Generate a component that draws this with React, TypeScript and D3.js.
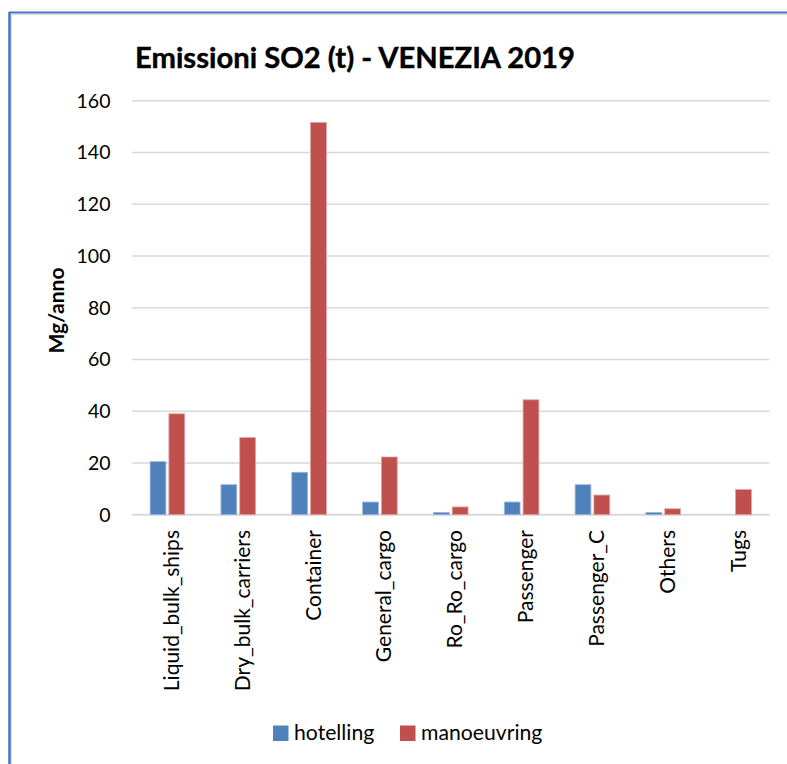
import React from "react";
import * as d3 from "d3";

const categories = [
  "Liquid_bulk_ships",
  "Dry_bulk_carriers",
  "Container",
  "General_cargo",
  "Ro_Ro_cargo",
  "Passenger",
  "Passenger_C",
  "Others",
  "Tugs",
];
const hotelling = [20.5, 11.6, 16.4, 4.9, 0.9, 4.9, 11.6, 0.9, 0];
const manoeuvring = [39.0, 29.8, 151.6, 22.3, 3.0, 44.4, 7.6, 2.3, 9.7];
const yTicks = [0, 20, 40, 60, 80, 100, 120, 140, 160];
const seriesNames = ["hotelling", "manoeuvring"];
const seriesColors = ["#4F81BD", "#C0504D"];

const W = 787;
const H = 764;
const FONT = "Lato, 'Open Sans', sans-serif";

export default function App() {
  const x = d3.scaleBand<string>().domain(categories).range([132, 769.5]).padding(0);
  const y = d3.scaleLinear().domain([0, 160]).range([514.7, 100.7]);
  const barW = 15.8;
  const gap = 3;
  const series = [hotelling, manoeuvring];

  return (
    <svg
      width={W}
      height={H}
      style={{ position: "absolute", left: 0, top: 0, background: "#fff" }}
      fontFamily={FONT}
    >
      {/* chart frame */}
      <line x1={9} y1={12.5} x2={W} y2={12.5} stroke="#4472C4" strokeWidth={2} />
      <line x1={9.5} y1={12} x2={9.5} y2={H} stroke="#4472C4" strokeWidth={2.5} />
      <line x1={11} y1={14.5} x2={W} y2={14.5} stroke="#d9d9d9" strokeWidth={1} />
      <line x1={11.5} y1={14} x2={11.5} y2={H} stroke="#e3e3e3" strokeWidth={1} />

      {/* title */}
      <text x={135} y={68} fontSize={28} fontWeight="bold" fill="#000" stroke="#000" strokeWidth={0.4} textLength={440} lengthAdjust="spacingAndGlyphs">
        Emissioni SO2 (t) - VENEZIA 2019
      </text>

      {/* gridlines and y ticks */}
      {yTicks.map((t) => (
        <g key={t}>
          <line x1={132} x2={769.5} y1={y(t)} y2={y(t)} stroke="#d9d9d9" strokeWidth={t === 0 ? 2 : 1.6} />
          <text x={110.5} y={y(t)} dy="0.35em" textAnchor="end" fontSize={19.5} fill="#000">
            {t}
          </text>
        </g>
      ))}

      {/* y axis title */}
      <text
        transform={`translate(64,310.5) rotate(-90)`}
        textAnchor="middle"
        fontSize={21}
        fontWeight="bold"
        fill="#000"
      >
        Mg/anno
      </text>

      {/* bars */}
      {categories.map((c, i) => {
        const cx = (x(c) as number) + x.bandwidth() / 2;
        return (
          <g key={c}>
            {series.map((s, k) => {
              const v = s[i];
              if (v <= 0) return null;
              const left = k === 0 ? cx - gap / 2 - barW : cx + gap / 2;
              return (
                <rect
                  key={k}
                  x={left}
                  y={y(v)}
                  width={barW}
                  height={y(0) - y(v)}
                  fill={seriesColors[k]}
                  stroke={k === 0 ? "#9fb9dd" : "#e0a3a1"}
                  strokeWidth={0.8}
                />
              );
            })}
            <text
              transform={`translate(${cx + 11.5},530) rotate(-90)`}
              textAnchor="end"
              fontSize={21}
              fill="#000"
            >
              {c}
            </text>
          </g>
        );
      })}

      {/* legend */}
      {seriesNames.map((n, k) => {
        const lx = k === 0 ? 273 : 400;
        return (
          <g key={n}>
            <rect x={lx} y={725.5} width={15.5} height={15.5} fill={seriesColors[k]} />
            <text x={lx + 21} y={740} fontSize={21.2} fill="#000">
              {n}
            </text>
          </g>
        );
      })}
    </svg>
  );
}
